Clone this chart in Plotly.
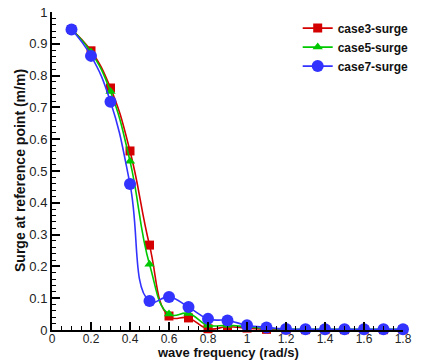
import plotly.graph_objects as go

freq = [0.1, 0.2, 0.3, 0.4, 0.5, 0.6, 0.7, 0.8, 0.9, 1.0, 1.1, 1.2, 1.3, 1.4, 1.5, 1.6, 1.7, 1.8]
case3 = [0.945, 0.878, 0.761, 0.563, 0.267, 0.044, 0.038, 0.004, 0.010, 0.006, 0.002, 0.001, 0.001, 0.001, 0.001, 0.001, 0.001, 0.001]
case5 = [0.945, 0.874, 0.750, 0.531, 0.207, 0.050, 0.052, 0.015, 0.015, 0.010, 0.005, 0.003, 0.002, 0.002, 0.002, 0.002, 0.002, 0.002]
case7 = [0.945, 0.862, 0.718, 0.459, 0.091, 0.104, 0.072, 0.035, 0.030, 0.015, 0.008, 0.003, 0.002, 0.002, 0.002, 0.002, 0.002, 0.002]

x_title = "wave frequency (rad/s)"
y_title = "Surge at reference point (m/m)"

series = [
    ("case3-surge", case3, "#d40000", "square", 9),
    ("case5-surge", case5, "#00c800", "triangle-up", 9),
    ("case7-surge", case7, "#3333ff", "circle", 12),
]

W, H = 443, 362
M = dict(l=52, r=40, t=12, b=32)
plot_h = H - M["t"] - M["b"]

fig = go.Figure()
for name, vals, color, sym, size in series:
    fig.add_trace(go.Scatter(
        x=freq, y=vals, name=name, mode="lines+markers",
        line=dict(color=color, width=1.6, shape="spline", smoothing=1.3),
        marker=dict(color=color, symbol=sym, size=size),
        cliponaxis=False,
    ))

axis_common = dict(
    showline=True, linecolor="black", linewidth=2, mirror=False,
    ticks="inside", ticklen=8, tickwidth=2, tickcolor="black",
    showgrid=False, zeroline=False, automargin=False,
)

fig.update_xaxes(
    range=[0, 1.8], dtick=0.2, tick0=0, ticklabelstandoff=-3,
    tickfont=dict(family="Liberation Sans, Arial", size=12, color="#222"),
    minor=dict(ticks="inside", ticklen=4, tickwidth=1, tickcolor="black", dtick=0.05),
    **axis_common,
)
fig.update_yaxes(
    range=[0, 1], dtick=0.1, tick0=0,
    tickfont=dict(family="Liberation Sans, Arial", size=13, color="#222"),
    minor=dict(ticks="inside", ticklen=4, tickwidth=1, tickcolor="black", dtick=0.02),
    **axis_common,
)

title_font = dict(family="Liberation Sans, Arial", size=14, color="#111", weight="bold")
# x title sits against the bottom edge of the page
fig.add_annotation(text=x_title, xref="paper", yref="paper", x=0.5,
                   y=-(M["b"] - 1) / plot_h, xanchor="center", yanchor="bottom",
                   showarrow=False, font=dict(title_font, size=13), borderpad=0)
fig.add_annotation(text=y_title, xref="paper", yref="paper", x=0, y=0.5,
                   xanchor="center", yanchor="middle", xshift=-32, textangle=-90,
                   showarrow=False, font=title_font)

fig.update_layout(
    width=W, height=H,
    margin=M,
    plot_bgcolor="white", paper_bgcolor="white",
    legend=dict(x=0.7, y=0.995, xanchor="left", yanchor="top",
                bgcolor="rgba(0,0,0,0)", tracegroupgap=0,
                font=dict(family="Liberation Sans, Arial", size=12, color="#111", weight="bold")),
)

fig.write_html("out.html")
